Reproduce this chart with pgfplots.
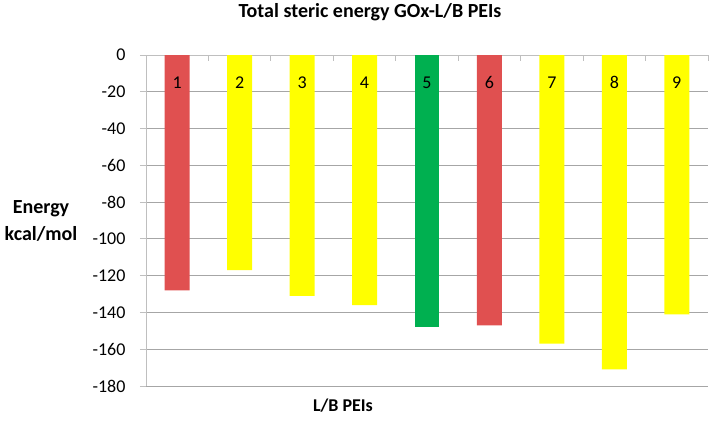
\documentclass[border=0pt]{standalone}
\usepackage{fontspec}
\setmainfont{Carlito}
\usepackage{pgfplots}
\pgfplotsset{compat=1.18}
\usetikzlibrary{calc}

\definecolor{barred}{HTML}{E05050}
\definecolor{baryellow}{HTML}{FFFF00}
\definecolor{bargreen}{HTML}{00B050}
\definecolor{gridgray}{HTML}{A6A6A6}
\definecolor{axisgray}{HTML}{BFBFBF}

\begin{document}
\begin{tikzpicture}
\begin{axis}[
  name=ax,
  scale only axis,
  width=562bp, height=331bp,
  xmin=0.5, xmax=9.5,
  ymin=-180, ymax=0,
  axis x line*=top,
  axis y line*=left,
  axis line style={axisgray, line width=0.8bp},
  xtick={0.5,1.5,...,9.5},
  xticklabels={},
  xtick align=inside,
  ytick={0,-20,...,-180},
  ytick align=outside,
  major tick length=6bp,
  tick style={axisgray, line width=0.8bp},
  ymajorgrids,
  grid style={gridgray, line width=0.8bp},
  /pgf/number format/assume math mode=true,
  tick label style={font=\fontsize{18bp}{21bp}\selectfont},
  yticklabel style={xshift=-11bp},
  title={\textbf{Total steric energy GOx-L/B PEIs}},
  title style={at={(axis description cs:0.3986,1.1118)}, anchor=center,
    font=\fontsize{20bp}{23bp}\selectfont},
  xlabel={\textbf{L/B PEIs}},
  xlabel style={at={(axis description cs:0.3505,-0.0604)}, anchor=center,
    font=\fontsize{18bp}{21bp}\selectfont},
  ylabel={\textbf{Energy}\\\textbf{kcal/mol}},
  ylabel style={at={(axis description cs:-0.1868,0.4985)}, anchor=center,
    rotate=-90, align=center, font=\fontsize{20bp}{27bp}\selectfont},
  clip=false,
]
% red bars
\addplot[ybar, bar width=0.4, bar shift=0pt, fill=barred, draw=none]
  coordinates {(1,-128) (6,-147)};
% yellow bars
\addplot[ybar, bar width=0.4, bar shift=0pt, fill=baryellow, draw=none]
  coordinates {(2,-117) (3,-131) (4,-136) (7,-157) (8,-171) (9,-141)};
% green bar
\addplot[ybar, bar width=0.4, bar shift=0pt, fill=bargreen, draw=none]
  coordinates {(5,-148)};
% labels inside bars
\addplot[draw=none, mark=none, nodes near coords, point meta=explicit symbolic,
  every node near coord/.append style={anchor=center, font=\fontsize{18bp}{21bp}\selectfont}]
  coordinates {(1,-15)[1] (2,-15)[2] (3,-15)[3] (4,-15)[4] (5,-15)[5]
               (6,-15)[6] (7,-15)[7] (8,-15)[8] (9,-15)[9]};
\end{axis}
\path[use as bounding box] ($(ax.south west)+(-146bp,-37bp)$) rectangle ($(ax.south west)+(567bp,383bp)$);
\end{tikzpicture}
\end{document}
